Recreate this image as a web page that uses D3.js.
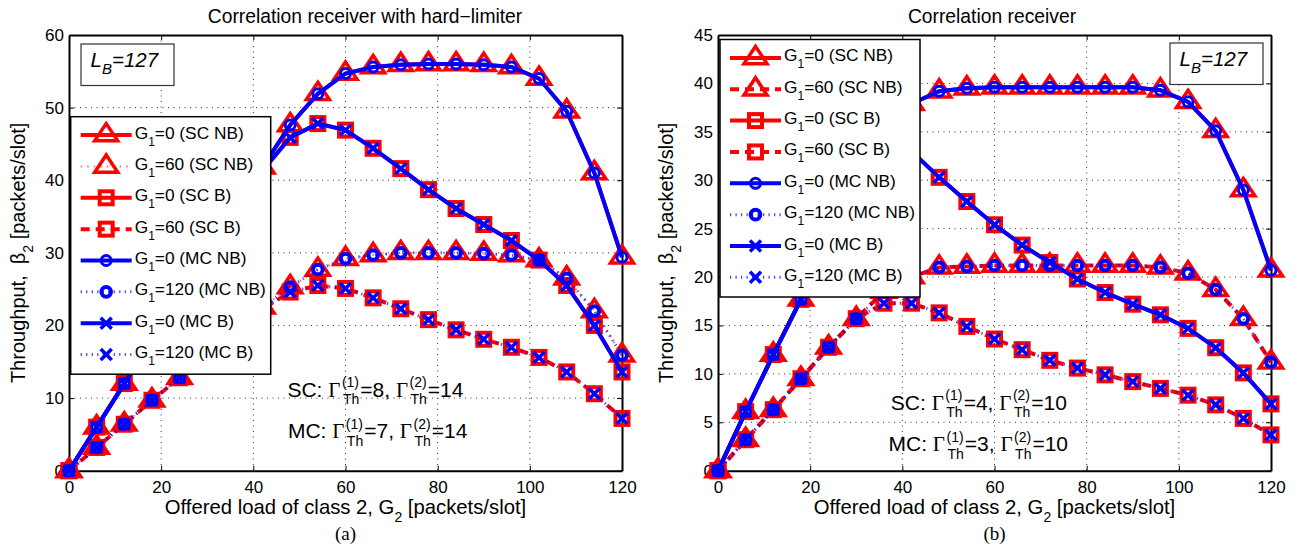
<!DOCTYPE html>
<html>
<head>
<meta charset="utf-8">
<script src="https://cdn.jsdelivr.net/npm/d3@7"></script>
<style>
body { margin: 0; background: #fff; }
svg text { font-family: "Liberation Sans", Arial, Helvetica, sans-serif; white-space: pre; fill: #000; }
</style>
</head>
<body>
<svg id="chart" width="1298" height="548"></svg>
<script>
// throughput of class 2 vs offered load, two receivers (a) and (b)

// offered load of class 2, G2 [packets/slot]
const loads = [0, 6, 12, 18, 24, 30, 36, 42, 48, 54, 60, 66, 72, 78, 84, 90, 96, 102, 108, 114, 120];
const xTicks = [0, 20, 40, 60, 80, 100, 120];
const yTicksA = [0, 10, 20, 30, 40, 50, 60];
const yTicksB = [0, 5, 10, 15, 20, 25, 30, 35, 40, 45];

// (a) correlation receiver with hard-limiter  (SC and MC curves coincide)
const hlNB0  = [0, 6.0, 12.0, 18.0, 23.9, 29.8, 35.7, 41.8, 47.6, 51.9, 54.7, 55.6, 55.9, 56.0, 56.0, 55.9, 55.6, 54.0, 49.5, 41.0, 29.4];
const hlNB60 = [0, 3.2, 6.4, 9.7, 12.8, 15.9, 19.2, 22.5, 25.3, 27.7, 29.2, 29.7, 30.0, 30.0, 30.0, 29.9, 29.7, 29.0, 26.5, 22.0, 15.9];
const hlB0   = [0, 6.0, 12.0, 18.0, 23.9, 29.8, 35.6, 41.3, 45.9, 47.8, 46.9, 44.4, 41.6, 38.7, 36.1, 33.9, 31.7, 29.0, 25.5, 20.0, 13.6];
const hlB60  = [0, 3.2, 6.4, 9.7, 12.8, 15.9, 19.1, 22.3, 24.6, 25.5, 25.1, 23.8, 22.3, 20.8, 19.4, 18.1, 17.0, 15.6, 13.6, 10.6, 7.2];

// (b) correlation receiver
const crNB0  = [0, 6.1, 12.0, 17.7, 23.2, 28.4, 33.3, 37.9, 39.2, 39.5, 39.6, 39.6, 39.6, 39.6, 39.6, 39.6, 39.3, 38.1, 35.1, 29.0, 20.7];
const crNB60 = [0, 3.2, 6.3, 9.5, 12.75, 15.7, 18.5, 20.0, 21.0, 21.1, 21.2, 21.2, 21.2, 21.2, 21.2, 21.2, 21.0, 20.4, 18.7, 15.7, 11.2];
const crB0   = [0, 6.1, 12.0, 17.7, 22.9, 27.8, 32.0, 33.0, 30.3, 27.8, 25.4, 23.3, 21.5, 19.8, 18.4, 17.2, 16.1, 14.7, 12.7, 10.1, 6.9];
const crB60  = [0, 3.2, 6.3, 9.5, 12.75, 15.7, 17.3, 17.3, 16.3, 14.9, 13.6, 12.5, 11.4, 10.6, 9.9, 9.2, 8.5, 7.8, 6.8, 5.4, 3.7];

// legend entries
const legendG1   = ["0", "60", "0", "60", "0", "120", "0", "120"];
const legendTags = ["SC NB", "SC NB", "SC B", "SC B", "MC NB", "MC NB", "MC B", "MC B"];

const RED = "#ff0000", BLUE = "#0000ff";

// line styles for the 8 curves (MATLAB order: red first, blue on top)
const solid = { width: 4, dash: null, opacity: 1 };
const redDot = { width: 2, dash: "1.5,5", opacity: 0.55 };
const redDash = { width: 4, dash: "9,6", opacity: 1 };
const blueDot = { width: 3, dash: "1.2,4.3", opacity: 0.75 };

function styles(nb60) {
    return [
        { color: RED,  line: solid,   marker: "tri" },
        { color: RED,  line: nb60,    marker: "tri" },
        { color: RED,  line: solid,   marker: "square" },
        { color: RED,  line: redDash, marker: "square" },
        { color: BLUE, line: solid,   marker: "circle" },
        { color: BLUE, line: blueDot, marker: "circleThick" },
        { color: BLUE, line: solid,   marker: "x" },
        { color: BLUE, line: blueDot, marker: "x" }
    ];
}

const panels = [
    { left: 69, right: 622, ymax: 60, yTicks: yTicksA,
      title: "Correlation receiver with hard\u2212limiter", titleX: 365, tag: "(a)",
      series: [hlNB0, hlNB60, hlB0, hlB60, hlNB0, hlNB60, hlB0, hlB60],
      styles: styles(redDot),
      legend: { x: 70.7, y: 116.7 }, lbBox: { x: 81, y: 44 }, ylabX: 25,
      notes: [{ g: 47.4, v: 10.2, lead: "SC: ", a: "8", b: "14" },
              { g: 47.5, v: 4.5, lead: "MC: ", a: "7", b: "14" }] },
    { left: 718, right: 1271, ymax: 45, yTicks: yTicksB,
      title: "Correlation receiver", titleX: 992, tag: "(b)",
      series: [crNB0, crNB60, crB0, crB60, crNB0, crNB60, crB0, crB60],
      styles: styles(redDash),
      legend: { x: 720, y: 39.5 }, lbBox: { x: 1170, y: 43 }, ylabX: 673,
      notes: [{ g: 37.5, v: 6.3, lead: "SC: ", a: "4", b: "10" },
              { g: 37.0, v: 2.0, lead: "MC: ", a: "3", b: "10" }] }
];

const plotTop = 35, plotBottom = 470.7;
const svg = d3.select("#chart");
svg.append("rect").attr("width", 1298).attr("height", 548).attr("fill", "#fff");

function drawMarker(g, kind, color) {
    if (kind === "tri") {
        g.append("path").attr("d", "M0,-11.5L11.5,5.75L-11.5,5.75Z")
            .attr("fill", "none").attr("stroke", color).attr("stroke-width", 3.5);
    } else if (kind === "square") {
        g.append("rect").attr("x", -6.5).attr("y", -6.5).attr("width", 13).attr("height", 13)
            .attr("fill", "none").attr("stroke", color).attr("stroke-width", 4);
    } else if (kind === "circle" || kind === "circleThick") {
        g.append("circle").attr("r", kind === "circle" ? 5 : 4.8)
            .attr("fill", "none").attr("stroke", color)
            .attr("stroke-width", kind === "circle" ? 3 : 4);
    } else if (kind === "x") {
        g.append("path").attr("d", "M-5.5,-5.5L5.5,5.5M-5.5,5.5L5.5,-5.5")
            .attr("fill", "none").attr("stroke", color).attr("stroke-width", 3.5);
    }
}

function applyLine(sel, st) {
    sel.attr("fill", "none").attr("stroke", st.color)
        .attr("stroke-width", st.line.width)
        .attr("stroke-opacity", st.line.opacity)
        .attr("stroke-dasharray", st.line.dash);
}

// text with stacked super/subscript after a Gamma
function mathLine(g, x, y, parts) {
    let cx = x;
    parts.forEach(function (p) {
        if (p.sup) {
            const a = g.append("text").attr("x", cx + 1.5).attr("y", y - 9.5)
                .style("font-size", "14px").text(p.sup);
            const b = g.append("text").attr("x", cx + 2.5).attr("y", y + 7.5)
                .style("font-size", "14px").text(p.sub);
            cx += Math.max(a.node().getComputedTextLength() + 1.5,
                           b.node().getComputedTextLength() + 2.5) + 1;
        } else {
            const t = g.append("text").attr("x", cx).attr("y", y)
                .style("font-size", "21px").text(p.t);
            if (p.serif) t.style("font-family", "'Liberation Serif', 'Times New Roman', serif");
            cx += t.node().getComputedTextLength();
        }
    });
}

panels.forEach(function (P) {
    const x = d3.scaleLinear().domain([0, 120]).range([P.left, P.right]);
    const y = d3.scaleLinear().domain([0, P.ymax]).range([plotBottom, plotTop]);
    const g = svg.append("g");

    // grid
    g.append("g").selectAll("line").data(xTicks.slice(1, -1)).join("line")
        .attr("x1", d => x(d)).attr("x2", d => x(d)).attr("y1", plotTop).attr("y2", plotBottom)
        .attr("stroke", "#333").attr("stroke-width", 1).attr("stroke-dasharray", "1,4.5");
    g.append("g").selectAll("line").data(P.yTicks.slice(1, -1)).join("line")
        .attr("y1", d => y(d)).attr("y2", d => y(d)).attr("x1", P.left).attr("x2", P.right)
        .attr("stroke", "#333").attr("stroke-width", 1).attr("stroke-dasharray", "1,4.5");

    // axes (ticks pointing inwards, box on)
    const axB = g.append("g").attr("transform", `translate(0,${plotBottom})`)
        .call(d3.axisBottom(x).tickValues(xTicks).tickSize(-5).tickSizeOuter(0).tickPadding(10));
    const axL = g.append("g").attr("transform", `translate(${P.left},0)`)
        .call(d3.axisLeft(y).tickValues(P.yTicks).tickSize(-5).tickSizeOuter(0).tickPadding(5));
    const axT = g.append("g").attr("transform", `translate(0,${plotTop})`)
        .call(d3.axisTop(x).tickValues(xTicks).tickSize(-5).tickSizeOuter(0).tickFormat(""));
    const axR = g.append("g").attr("transform", `translate(${P.right},0)`)
        .call(d3.axisRight(y).tickValues(P.yTicks).tickSize(-5).tickSizeOuter(0).tickFormat(""));
    [axB, axL, axT, axR].forEach(function (a) {
        a.select(".domain").attr("stroke", "#000").attr("stroke-width", 2);
        a.selectAll(".tick line").attr("stroke", "#000").attr("stroke-width", 1);
        a.selectAll("text").style("font-size", "17px")
            .style("font-family", "'Liberation Sans', Arial, sans-serif").attr("fill", "#000");
    });

    // curves
    P.series.forEach(function (vals, i) {
        const st = P.styles[i];
        const pts = loads.map((d, j) => [d, vals[j]]);
        applyLine(g.append("path").attr("d", d3.line().x(d => x(d[0])).y(d => y(d[1])) (pts)), st);
        g.append("g").selectAll("g").data(pts).join("g")
            .attr("transform", d => `translate(${x(d[0])},${y(d[1])})`)
            .each(function () { drawMarker(d3.select(this), st.marker, st.color); });
    });

    // legend
    const L = g.append("g").attr("transform", `translate(${P.legend.x},${P.legend.y})`);
    L.append("rect").attr("width", 200).attr("height", 257.5)
        .attr("fill", "#fff").attr("stroke", "#000").attr("stroke-width", 1.5);
    legendG1.forEach(function (g1, i) {
        const st = P.styles[i];
        const ry = 18.4 + i * 31.35;
        applyLine(L.append("line").attr("x1", 10).attr("x2", 61).attr("y1", ry).attr("y2", ry), st);
        drawMarker(L.append("g").attr("transform", `translate(35.5,${ry})`), st.marker, st.color);
        const t = L.append("text").attr("x", 64).attr("y", ry + 3.5).style("font-size", "17.3px");
        t.append("tspan").text("G");
        t.append("tspan").attr("dy", 7).style("font-size", "12px").text("1");
        t.append("tspan").attr("dy", -7).text("=" + g1 + " (" + legendTags[i] + ")");
    });

    // L_B box
    const B = g.append("g").attr("transform", `translate(${P.lbBox.x},${P.lbBox.y})`);
    B.append("rect").attr("width", 93).attr("height", 41.5)
        .attr("fill", "#fff").attr("stroke", "#333").attr("stroke-width", 1.2);
    const bt = B.append("text").attr("x", 9.5).attr("y", 22.5)
        .style("font-size", "20.5px").style("font-style", "italic");
    bt.append("tspan").text("L");
    bt.append("tspan").attr("dy", 7).style("font-size", "15px").text("B");
    bt.append("tspan").attr("dy", -7).text("=127");

    // threshold notes
    P.notes.forEach(function (n) {
        mathLine(g, x(n.g), y(n.v), [
            { t: n.lead }, { t: "\u0393", serif: true }, { sup: "(1)", sub: "Th" },
            { t: "=" + n.a + ", " }, { t: "\u0393", serif: true }, { sup: "(2)", sub: "Th" },
            { t: "=" + n.b }
        ]);
    });

    // titles and axis labels
    g.append("text").attr("x", P.titleX).attr("y", 23).attr("text-anchor", "middle")
        .style("font-size", "19.3px").text(P.title);
    const xl = g.append("text").attr("x", (P.left + P.right) / 2).attr("y", 513.5)
        .attr("text-anchor", "middle").style("font-size", "20.3px");
    xl.append("tspan").text("Offered load of class 2, G");
    xl.append("tspan").attr("dy", 8).style("font-size", "14px").text("2");
    xl.append("tspan").attr("dy", -8).text(" [packets/slot]");
    const yl = g.append("text").attr("transform", `translate(${P.ylabX},${(plotTop + plotBottom) / 2}) rotate(-90)`)
        .attr("text-anchor", "middle").style("font-size", "20px");
    yl.append("tspan").text("Throughput,  \u03b2");
    yl.append("tspan").attr("dy", 8).style("font-size", "14px").text("2");
    yl.append("tspan").attr("dy", -8).text(" [packets/slot]");
    g.append("text").attr("x", (P.left + P.right) / 2).attr("y", 540).attr("text-anchor", "middle")
        .style("font-family", "'Liberation Serif', 'Times New Roman', serif").style("font-size", "19px")
        .text(P.tag);
});
</script>
</body>
</html>
